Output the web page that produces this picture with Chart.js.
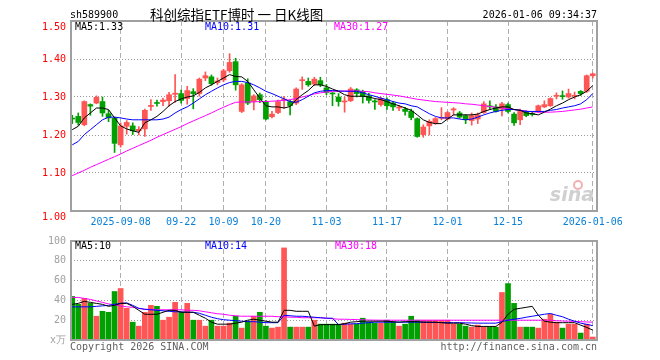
<!DOCTYPE html>
<html>
<head>
<meta charset="utf-8">
<script src="https://cdn.jsdelivr.net/npm/chart.js@4.4.1/dist/chart.umd.min.js"></script>
<style>
body { margin: 0; background: #fff; }
#wrap { position: relative; width: 660px; height: 360px; }
#priceChart { position: absolute; left: 0; top: 0; }
#volChart { position: absolute; left: 0; top: 230px; }
</style>
</head>
<body>
<div id="wrap">
<canvas id="priceChart" width="660" height="235"></canvas>
<canvas id="volChart" width="660" height="130"></canvas>
</div>
<script>
// daily candles, oldest first
let openP = [1.244,1.249,1.227,1.280,1.284,1.288,1.256,1.244,1.174,1.223, 1.224,1.211,1.216,1.275,1.285,1.288,1.290,1.307,1.309,1.296,
    1.314,1.309,1.350,1.353,1.338,1.345,1.369,1.393,1.262,1.337, 1.288,1.306,1.288,1.248,1.259,1.292,1.288,1.284,1.343,1.341,
    1.334,1.343,1.324,1.310,1.300,1.287,1.290,1.319,1.315,1.303, 1.289,1.280,1.293,1.284,1.271,1.268,1.263,1.243,1.201,1.224,
    1.232,1.244,1.242,1.266,1.258,1.251,1.238,1.242,1.259,1.276, 1.274,1.268,1.280,1.255,1.240,1.262,1.256,1.262,1.274,1.277,
    1.302,1.303,1.300,1.302,1.315,1.315,1.356];
let highP = [1.252,1.258,1.290,1.282,1.303,1.300,1.265,1.247,1.232,1.238, 1.232,1.222,1.268,1.293,1.292,1.297,1.312,1.359,1.318,1.328,
    1.322,1.350,1.366,1.358,1.350,1.373,1.414,1.402,1.335,1.348, 1.306,1.310,1.291,1.262,1.292,1.302,1.292,1.324,1.353,1.350,
    1.352,1.352,1.333,1.312,1.309,1.300,1.325,1.322,1.318,1.310, 1.293,1.300,1.298,1.288,1.278,1.273,1.268,1.245,1.227,1.240,
    1.246,1.272,1.262,1.272,1.262,1.254,1.258,1.258,1.288,1.290, 1.280,1.286,1.284,1.259,1.268,1.264,1.261,1.279,1.290,1.298,
    1.311,1.316,1.321,1.313,1.317,1.358,1.363];
let lowP = [1.230,1.226,1.224,1.252,1.282,1.249,1.235,1.154,1.168,1.202, 1.201,1.200,1.196,1.265,1.276,1.277,1.276,1.286,1.284,1.281,
    1.269,1.302,1.343,1.331,1.332,1.340,1.365,1.318,1.259,1.280, 1.266,1.285,1.240,1.245,1.256,1.270,1.253,1.280,1.320,1.328,
    1.330,1.327,1.306,1.277,1.276,1.260,1.288,1.300,1.284,1.284, 1.267,1.276,1.267,1.265,1.264,1.252,1.240,1.194,1.194,1.200,
    1.228,1.240,1.240,1.252,1.244,1.230,1.226,1.230,1.257,1.267, 1.260,1.250,1.258,1.225,1.227,1.248,1.250,1.259,1.272,1.275,
    1.295,1.294,1.297,1.295,1.304,1.312,1.350];
let closeP = [1.242,1.233,1.288,1.276,1.299,1.258,1.245,1.178,1.224,1.233, 1.211,1.215,1.265,1.278,1.283,1.292,1.306,1.310,1.291,1.317,
    1.309,1.347,1.356,1.335,1.342,1.369,1.391,1.332,1.332,1.284, 1.303,1.293,1.242,1.255,1.288,1.294,1.277,1.321,1.345,1.332,
    1.347,1.332,1.312,1.308,1.288,1.289,1.321,1.309,1.302,1.291, 1.287,1.296,1.277,1.274,1.273,1.262,1.246,1.196,1.221,1.236,
    1.243,1.246,1.259,1.268,1.247,1.240,1.251,1.253,1.282,1.274, 1.262,1.282,1.262,1.232,1.262,1.251,1.254,1.277,1.280,1.296,
    1.304,1.301,1.309,1.304,1.309,1.356,1.361];

let ma5 = [1.214,1.223,1.245,1.258,1.271,1.271,1.267,1.245,1.224,1.216, 1.211,1.207,1.232,1.240,1.249,1.262,1.277,1.288,1.295,1.300,
    1.303,1.312,1.324,1.332,1.341,1.350,1.359,1.354,1.353,1.341, 1.319,1.297,1.277,1.274,1.274,1.271,1.275,1.293,1.306,1.317,
    1.332,1.332,1.328,1.321,1.315,1.306,1.302,1.302,1.302,1.300, 1.296,1.293,1.288,1.282,1.277,1.271,1.265,1.253,1.240,1.233,
    1.230,1.230,1.242,1.253,1.253,1.253,1.253,1.255,1.262,1.267, 1.271,1.274,1.274,1.267,1.265,1.258,1.256,1.253,1.260,1.268,
    1.277,1.284,1.293,1.300,1.306,1.315,1.330];
let ma10 = [1.174,1.183,1.201,1.214,1.227,1.240,1.247,1.247,1.245,1.242, 1.240,1.240,1.240,1.240,1.240,1.242,1.247,1.258,1.267,1.274,
    1.284,1.295,1.306,1.315,1.324,1.332,1.338,1.341,1.341,1.338, 1.332,1.324,1.315,1.309,1.302,1.295,1.288,1.286,1.293,1.302,
    1.311,1.315,1.317,1.317,1.316,1.315,1.315,1.315,1.311,1.306, 1.302,1.297,1.293,1.288,1.284,1.282,1.277,1.274,1.265,1.256,
    1.249,1.245,1.245,1.245,1.242,1.240,1.242,1.247,1.253,1.258, 1.262,1.265,1.267,1.267,1.265,1.262,1.262,1.262,1.262,1.265,
    1.267,1.271,1.274,1.277,1.282,1.293,1.309];
let ma30 = [1.093,1.100,1.107,1.115,1.122,1.129,1.136,1.143,1.150,1.158, 1.165,1.172,1.179,1.186,1.194,1.201,1.208,1.215,1.222,1.230,
    1.237,1.244,1.251,1.258,1.266,1.273,1.280,1.286,1.287,1.287, 1.287,1.288,1.288,1.289,1.290,1.291,1.293,1.296,1.300,1.304,
    1.308,1.311,1.313,1.315,1.315,1.316,1.316,1.316,1.315,1.314, 1.311,1.309,1.307,1.305,1.303,1.300,1.297,1.294,1.292,1.290,
    1.288,1.287,1.286,1.285,1.284,1.282,1.281,1.279,1.277,1.275, 1.273,1.271,1.269,1.267,1.265,1.263,1.261,1.260,1.260,1.260,
    1.261,1.262,1.264,1.266,1.268,1.271,1.274];

// volume in 万手
let volume = [44,36,42,37,24,29,28,49,52,32, 18,14,28,35,34,20,23,38,28,37, 20,20,14,20,14,14,17,24,12,19,
    24,28,14,12,13,93,13,13,13,13, 20,16,16,16,16,17,16,16,22,18, 17,17,20,18,14,16,24,20,20,20,
    20,20,20,16,16,14,13,15,13,13, 13,48,57,37,13,13,13,12,21,26, 18,12,16,16,7,16,3];
let volMa5 = [36,37,39,38,37,36,34,35,37,37, 34,30,26,26,26,28,30,30,28,28, 28,25,22,18,16,16,16,17,18,20,
    21,20,19,18,18,30,30,29,29,29, 14,15.5,15.5,15.5,15.5,16.5,18,18.5,19,19, 19,19,19,18.5,18,18.5,18.5,18.5,18,18,
    18,17.5,17,17,17,16,14.5,13.7,13.7,13.7, 13.7,18,26,31,32,33,34,25,19,18, 17.5,17.5,17.5,17.5,15,12.7,10];
let volMa10 = [33.5,33.5,33.5,33.5,34,34.5,35,36,37,37.5, 35,32,31,30.5,30,29.5,29,28.5,28.5,28, 28,27,25,23,21.5,20.5,20,19.5,19,18.5,
    18.5,18,17.5,17.5,17.5,25,24.5,24,24,23.5, 23,22.5,22,22,15.5,16,16.3,16.5,17,17.5, 18,18,18,18,18,18,18,18,18,17.8,
    17.7,17.6,17.5,17.5,17.5,17.3,17.2,17,17,17, 17,18.5,20,21,21.8,23,24,25,26,26.8, 25,23.5,21,19,17,15.8,14.5];
let volMa30 = [43,43,42,41,39.5,38,36.5,35.5,34.5,33.5, 33,32,31,31,30.5,30.5,30.5,30.5,30.5,30, 30,29.5,28.5,27.5,26.5,26,25,24.5,24,24,
    24,24,24,24,23.5,23.5,23,23,22.5,22.5, 22.5,22.5,22,21.5,21,21,20.8,20.6,20.4,20.2, 20.1,20,20,20,20,20,20,20,20,20,
    20,20,20,20,20,20,20,20,20,20, 20,20,20,20,20,20,20,20,20,20, 19.5,19.2,19,18.8,18.5,18.2,18];

let dateTickIdx = [8, 18, 25, 32, 42, 52, 62, 72, 86];
let dateTickLabels = ['2025-09-08', '09-22', '10-09', '10-20', '11-03', '11-17', '12-01', '12-15', '2026-01-06'];

let UP = '#ff5555';
let DOWN = '#00a000';
let MONO = '"DejaVu Sans Mono", monospace';

let candleColors = closeP.map(function (c, i) {
    return c >= openP[i] ? UP : DOWN;
});

function points(arr) {
    return arr.map(function (v, i) { return { x: i, y: v }; });
}

function maLine(arr, color) {
    return {
        type: 'line',
        data: points(arr),
        borderColor: color,
        borderWidth: 1,
        pointRadius: 0,
        tension: 0,
        order: 0
    };
}

function xScale(showLabels) {
    return {
        type: 'linear',
        offset: false,
        min: -0.2,
        max: 86.7,
        afterBuildTicks: function (scale) {
            scale.ticks = dateTickIdx.map(function (v) { return { value: v }; });
        },
        afterFit: function (scale) { scale.height = showLabels ? 24 : 20; },
        grid: { color: '#b0b0b0', drawTicks: false, offset: false },
        border: { display: false, dash: [5, 3] },
        ticks: {
            display: showLabels,
            autoSkip: false,
            maxRotation: 0,
            padding: 5,
            color: '#0a80d8',
            font: { family: MONO, size: 10 },
            callback: function (v) { return dateTickLabels[dateTickIdx.indexOf(v)]; }
        }
    };
}

// gray frame round the plot area plus the loose texts
function framePlugin(drawTexts) {
    return {
        id: 'frame',
        afterDraw: function (chart) {
            let a = chart.chartArea;
            let ctx = chart.ctx;
            ctx.save();
            ctx.strokeStyle = '#a0a0a0';
            ctx.lineWidth = 2;
            ctx.strokeRect(a.left, a.top, a.right - a.left, a.bottom - a.top);
            ctx.font = '10px ' + MONO;
            ctx.textBaseline = 'middle';
            drawTexts(ctx, a);
            ctx.restore();
        }
    };
}

new Chart(document.getElementById('priceChart'), {
    data: {
        datasets: [
            maLine(ma5, '#000000'),
            maLine(ma10, '#0000ff'),
            maLine(ma30, '#ff00ff'),
            {
                type: 'bar',
                data: highP.map(function (h, i) { return { x: i, y: [lowP[i], h] }; }),
                backgroundColor: candleColors,
                barThickness: 1,
                grouped: false,
                order: 2
            },
            {
                type: 'bar',
                data: openP.map(function (o, i) { return { x: i, y: [o, closeP[i]] }; }),
                backgroundColor: candleColors,
                barThickness: 5,
                minBarLength: 1,
                grouped: false,
                order: 1
            }
        ]
    },
    options: {
        responsive: false,
        animation: false,
        layout: { padding: { left: 0, right: 63, top: 21, bottom: 0 } },
        plugins: { legend: { display: false }, tooltip: { enabled: false } },
        scales: {
            x: xScale(true),
            y: {
                min: 1.0,
                max: 1.5,
                afterFit: function (scale) { scale.width = 71; },
                grid: { color: '#999999', drawTicks: false },
                border: { display: false, dash: [1, 2] },
                ticks: {
                    stepSize: 0.1,
                    padding: 5,
                    color: '#ff0000',
                    font: { family: MONO, size: 10 },
                    callback: function (v) {
                        let s = v.toFixed(2);
                        // edge labels sit just below their line
                        return (v === 1 || v === 1.5) ? ['', s] : s;
                    }
                }
            }
        }
    },
    plugins: [framePlugin(function (ctx, a) {
        ctx.fillStyle = '#000';
        ctx.textAlign = 'left';
        ctx.fillText('sh589900', 70, 15);
        ctx.font = '13.5px "Noto Sans CJK SC"';
        ctx.fillText('科创综指ETF博时 一 日K线图', 150, 15);
        ctx.font = '10px ' + MONO;
        ctx.textAlign = 'right';
        ctx.fillText('2026-01-06 09:34:37', 597, 15);
        ctx.textAlign = 'left';
        ctx.fillText('MA5:1.33', 75, 27);
        ctx.fillStyle = '#0000ff';
        ctx.fillText('MA10:1.31', 205, 27);
        ctx.fillStyle = '#ff00ff';
        ctx.fillText('MA30:1.27', 334, 27);
        // sina watermark
        ctx.fillStyle = '#d0d0d0';
        ctx.font = 'italic bold 19px "DejaVu Sans"';
        ctx.textAlign = 'right';
        ctx.fillText('sina', 594, 196);
        ctx.strokeStyle = '#f3b0b0';
        ctx.lineWidth = 2;
        ctx.beginPath();
        ctx.arc(578, 185, 4, 0, Math.PI * 2);
        ctx.stroke();
    })]
});

new Chart(document.getElementById('volChart'), {
    data: {
        datasets: [
            maLine(volMa5, '#000000'),
            maLine(volMa10, '#0000ff'),
            maLine(volMa30, '#ff00ff'),
            {
                type: 'bar',
                data: points(volume),
                backgroundColor: candleColors,
                barThickness: 5,
                grouped: false,
                order: 1
            }
        ]
    },
    options: {
        responsive: false,
        animation: false,
        layout: { padding: { left: 0, right: 63, top: 10, bottom: 0 } },
        plugins: { legend: { display: false }, tooltip: { enabled: false } },
        scales: {
            x: xScale(false),
            y: {
                min: 0,
                max: 100,
                afterFit: function (scale) { scale.width = 71; },
                grid: { color: '#999999', drawTicks: false },
                border: { display: false, dash: [1, 2] },
                ticks: {
                    stepSize: 20,
                    padding: 5,
                    color: '#a0a0a0',
                    font: { family: MONO, size: 10 },
                    callback: function (v) { return v === 0 ? 'x万' : v; }
                }
            }
        }
    },
    plugins: [framePlugin(function (ctx, a) {
        ctx.textAlign = 'left';
        ctx.fillStyle = '#000';
        ctx.fillText('MA5:10', 75, 16);
        ctx.fillStyle = '#0000ff';
        ctx.fillText('MA10:14', 205, 16);
        ctx.fillStyle = '#ff00ff';
        ctx.fillText('MA30:18', 335, 16);
        ctx.fillStyle = '#606060';
        ctx.fillText('Copyright 2026 SINA.COM', 70, 117);
        ctx.textAlign = 'right';
        ctx.fillText('http://finance.sina.com.cn', 597, 117);
    })]
});
</script>
</body>
</html>
